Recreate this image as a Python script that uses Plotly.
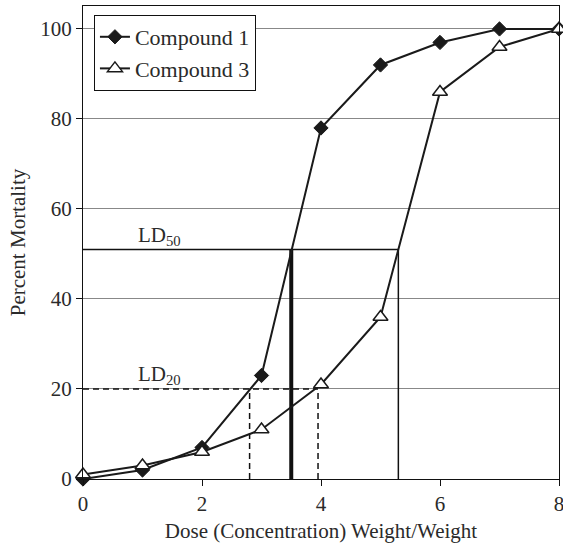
import plotly.graph_objects as go

dose = [0, 1, 2, 3, 4, 5, 6, 7, 8]
compound1 = [0, 2, 7, 23, 78, 92, 97, 100, 100]
compound3 = [1, 3, 6, 11, 21, 36, 86, 96, 100]

ld50_level = 51
ld50_c1 = 3.5
ld50_c3 = 5.3
ld20_level = 20
ld20_c1 = 2.8
ld20_c3 = 3.95

FONT = "Liberation Serif"
TXT = "#2a2a2a"

fig = go.Figure()

# LD50 reference lines
fig.add_trace(go.Scatter(x=[0, ld50_c3], y=[ld50_level, ld50_level], mode="lines",
                         line=dict(color="#111", width=1.5), showlegend=False, hoverinfo="skip"))
fig.add_trace(go.Scatter(x=[ld50_c1, ld50_c1], y=[0, ld50_level], mode="lines",
                         line=dict(color="#111", width=4), showlegend=False, hoverinfo="skip"))
fig.add_trace(go.Scatter(x=[ld50_c3, ld50_c3], y=[0, ld50_level], mode="lines",
                         line=dict(color="#111", width=1.5), showlegend=False, hoverinfo="skip"))
# LD20 reference lines
fig.add_trace(go.Scatter(x=[0, ld20_c3], y=[ld20_level, ld20_level], mode="lines",
                         line=dict(color="#111", width=1.5, dash="6px,4px"), showlegend=False, hoverinfo="skip"))
fig.add_trace(go.Scatter(x=[ld20_c1, ld20_c1], y=[0, ld20_level], mode="lines",
                         line=dict(color="#111", width=1.5, dash="6px,4px"), showlegend=False, hoverinfo="skip"))
fig.add_trace(go.Scatter(x=[ld20_c3, ld20_c3], y=[0, ld20_level], mode="lines",
                         line=dict(color="#111", width=1.5, dash="6px,4px"), showlegend=False, hoverinfo="skip"))

fig.add_trace(go.Scatter(x=dose, y=compound1, mode="lines+markers", name="Compound 1",
                         line=dict(color="#1a1a1a", width=2),
                         marker=dict(symbol="diamond", size=11, color="#1a1a1a",
                                     line=dict(color="#1a1a1a", width=1)),
                         cliponaxis=False))
fig.add_trace(go.Scatter(x=dose, y=compound3, mode="lines+markers", name="Compound 3",
                         line=dict(color="#1a1a1a", width=2),
                         marker=dict(symbol="triangle-up", size=13, color="white",
                                     line=dict(color="#1a1a1a", width=1.5)),
                         cliponaxis=False))

fig.add_annotation(x=1.29, y=54, text="LD<sub>50</sub>", showarrow=False,
                   font=dict(family=FONT, size=21, color=TXT))
fig.add_annotation(x=1.29, y=23, text="LD<sub>20</sub>", showarrow=False,
                   font=dict(family=FONT, size=21, color=TXT))

fig.update_layout(
    width=563, height=547,
    margin=dict(l=83, r=4, t=6, b=68),
    paper_bgcolor="white", plot_bgcolor="white",
    font=dict(family=FONT, size=21, color=TXT),
    showlegend=True,
    legend=dict(x=0.023, y=0.981, xanchor="left", yanchor="top",
                bgcolor="white", bordercolor="#111", borderwidth=1,
                font=dict(family=FONT, size=22, color=TXT),
                itemwidth=30, tracegroupgap=0),
)
fig.update_xaxes(range=[0, 8], tickvals=[0, 2, 4, 6, 8], showgrid=False, zeroline=False,
                 showline=True, linecolor="#111", linewidth=1, mirror=True,
                 ticks="outside", ticklen=6, tickcolor="#111",
                 ticklabeloverflow="allow", automargin=False,
                 title=dict(text="Dose (Concentration) Weight/Weight", standoff=8,
                            font=dict(family=FONT, size=21)),
                 tickfont=dict(family=FONT, size=21))
fig.update_yaxes(range=[0, 105.1], tickvals=[0, 20, 40, 60, 80, 100], showgrid=True,
                 gridcolor="#888", gridwidth=1, zeroline=False,
                 showline=True, linecolor="#111", linewidth=1, mirror=True,
                 ticks="outside", ticklen=6, tickcolor="#111", automargin=False,
                 title=dict(text="Percent Mortality", standoff=8,
                            font=dict(family=FONT, size=21)),
                 tickfont=dict(family=FONT, size=21))

fig.write_html("out.html")
